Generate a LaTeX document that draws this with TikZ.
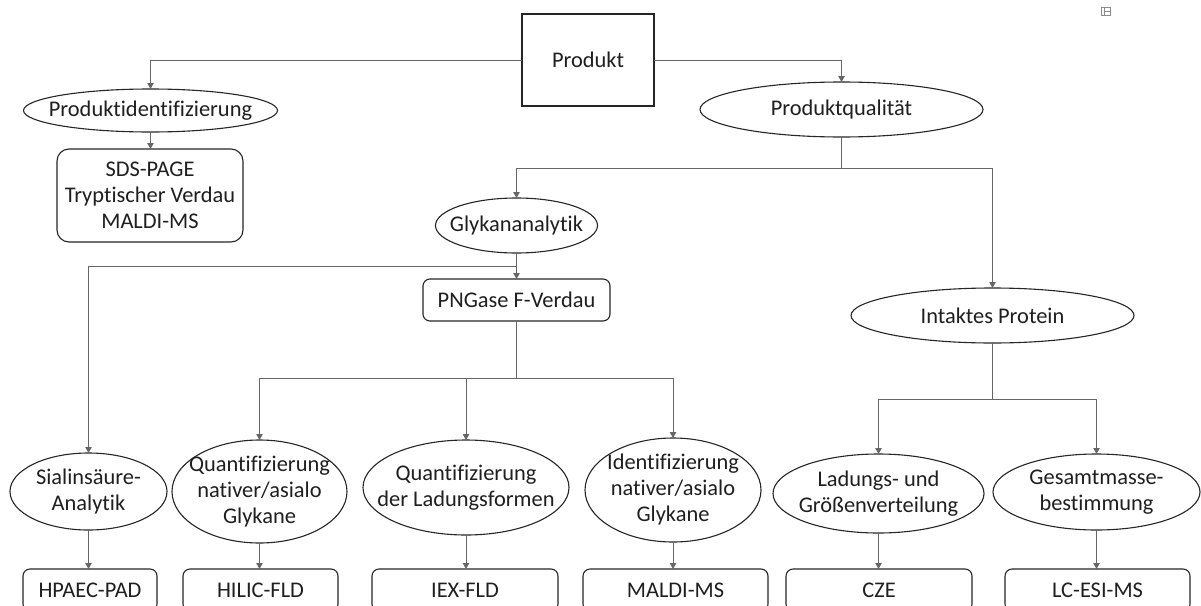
\documentclass[tikz,border=0pt]{standalone}
\usepackage{fontspec}
\setmainfont{Carlito}[Ligatures={NoCommon,NoRequired,NoContextual}]
\usetikzlibrary{shapes.geometric,arrows.meta}
\tikzset{
  shp/.style={draw=black!85, line width=1.1pt, inner sep=0pt, outer sep=0pt},
  ell/.style={shp, ellipse},
  sqbox/.style={shp, rectangle},
  rbox/.style={shp, rectangle, rounded corners=7pt},
  txt/.style={inner sep=0pt, align=center, text=black!88, font=\fontsize{22.4pt}{26pt}\selectfont},
  conn/.style={draw=black!60, line width=0.9pt},
  arr/.style={conn, -{Triangle[width=6.5pt,length=6pt]}},
}
\begin{document}
\begin{tikzpicture}[x=1pt,y=-1pt]
\useasboundingbox (0,0) rectangle (1201,605);
\clip (0,0) rectangle (1201,605);
\fill[white] (0,0) rectangle (1201,605);

% top level
\node[sqbox, minimum width=132pt, minimum height=92pt] (prod) at (588,60) {};
\node[txt] at (prod) {Produkt};

\node[ell, minimum width=254pt, minimum height=43pt] (pid) at (150.5,110.5) {};
\node[txt] at (pid) {Produktidentifizierung};

\node[rbox, rounded corners=12pt, minimum width=186pt, minimum height=93pt] (sds) at (150,195.5) {};
\node[txt] at (sds) {SDS-PAGE\\Tryptischer Verdau\\MALDI-MS};

\node[ell, minimum width=283pt, minimum height=55pt] (pq) at (841.5,109.5) {};
\node[txt] at (pq) {Produktqualität};

\node[ell, minimum width=162pt, minimum height=55pt] (gly) at (516.5,225.5) {};
\node[txt] at (gly) {Glykananalytik};

\node[rbox, minimum width=187pt, minimum height=42pt] (png) at (516.5,300) {};
\node[txt] at (png) {PNGase F-Verdau};

\node[ell, minimum width=283pt, minimum height=55pt] (ip) at (992.5,315.5) {};
\node[txt] at (ip) {Intaktes Protein};

% second level ellipses
\node[ell, minimum width=157pt, minimum height=77pt] (sia) at (88.5,491.5) {};
\node[txt] at (sia) {Sialinsäure-\\Analytik};

\node[ell, minimum width=175pt, minimum height=103pt] (qn) at (259.5,491.5) {};
\node[txt] at (qn) {Quantifizierung\\nativer/asialo\\Glykane};

\node[ell, minimum width=206pt, minimum height=95pt] (ql) at (466,487.5) {};
\node[txt] at (ql) {Quantifizierung\\der Ladungsformen};

\node[ell, minimum width=176pt, minimum height=104pt] (qi) at (673,490) {};
\node[txt] at (qi) {Identifizierung\\nativer/asialo\\Glykane};

\node[ell, minimum width=211pt, minimum height=79pt] (lg) at (878.5,493.5) {};
\node[txt] at (lg) {Ladungs- und\\Größenverteilung};

\node[ell, minimum width=207pt, minimum height=76pt] (gb) at (1096.5,492) {};
\node[txt] at (gb) {Gesamtmasse-\\bestimmung};

% bottom boxes
\node[rbox, minimum width=134pt, minimum height=42pt] (hp) at (90,590) {};
\node[txt] at (hp) {HPAEC-PAD};
\node[rbox, minimum width=155pt, minimum height=42pt] (hi) at (260.5,590) {};
\node[txt] at (hi) {HILIC-FLD};
\node[rbox, minimum width=186pt, minimum height=42pt] (iex) at (465,590) {};
\node[txt] at (iex) {IEX-FLD};
\node[rbox, minimum width=185pt, minimum height=42pt] (mal) at (675.5,590) {};
\node[txt] at (mal) {MALDI-MS};
\node[rbox, minimum width=186pt, minimum height=42pt] (cze) at (879,590) {};
\node[txt] at (cze) {CZE};
\node[rbox, minimum width=185pt, minimum height=42pt] (lc) at (1097.5,590) {};
\node[txt] at (lc) {LC-ESI-MS};

% junctions
\coordinate (j1) at (841.5,168);
\coordinate (j2) at (516.5,266);
\coordinate (j3) at (516.5,378);
\coordinate (j4) at (992.5,399);

% connectors
\draw[arr] (prod.west) -| (pid.north);
\draw[arr] (prod.east) -| (pq.north);
\draw[arr] (pid.south) -- (pid.south |- sds.north);
\draw[conn] (pq.south) -- (j1);
\draw[arr] (j1) -| (gly.north);
\draw[arr] (j1) -| (ip.north);
\draw[arr] (gly.south) -- (png.north);
\draw[arr] (j2) -| (sia.north);
\draw[conn] (png.south) -- (j3);
\draw[arr] (j3) -| (qn.north);
\draw[arr] (j3) -| (ql.north);
\draw[arr] (j3) -| (qi.north);
\draw[conn] (ip.south) -- (j4);
\draw[arr] (j4) -| (lg.north);
\draw[arr] (j4) -| (gb.north);
\draw[arr] (sia.south) -- (sia.south |- hp.north);
\draw[arr] (qn.south) -- (qn.south |- hi.north);
\draw[arr] (ql.south) -- (ql.south |- iex.north);
\draw[arr] (qi.south) -- (qi.south |- mal.north);
\draw[arr] (lg.south) -- (lg.south |- cze.north);
\draw[arr] (gb.south) -- (gb.south |- lc.north);

% small layout icon
\draw[black!45, line width=0.6pt] (1101,7) rectangle (1110,15.5)
  (1104,7) -- (1104,15.5) (1104,11.25) -- (1110,11.25);
\end{tikzpicture}
\end{document}
